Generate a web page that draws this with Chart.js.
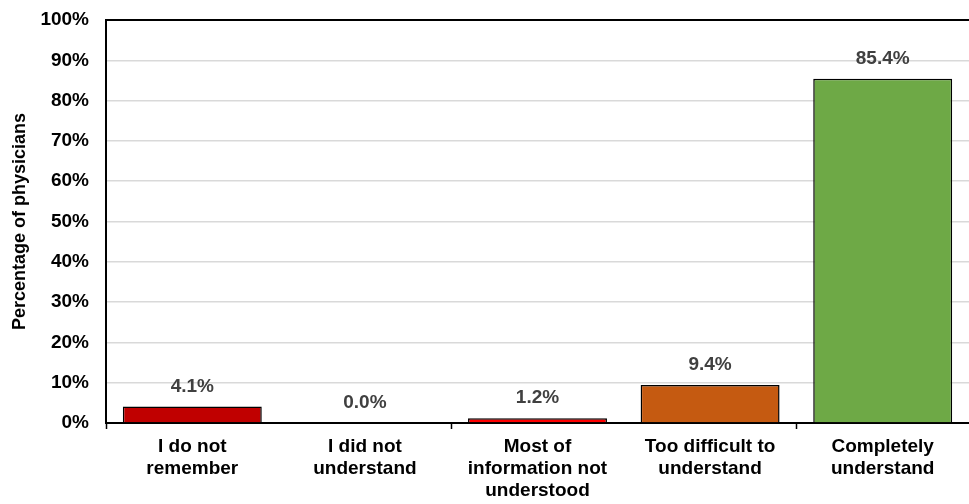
<!DOCTYPE html>
<html>
<head>
<meta charset="utf-8">
<script src="https://cdn.jsdelivr.net/npm/chart.js@4.4.0/dist/chart.umd.min.js"></script>
<style>
  html, body { margin: 0; padding: 0; background: #fff; }
  #wrap { width: 969px; height: 504px; position: relative; }
</style>
</head>
<body>
<div id="wrap"><canvas id="bar-chart"></canvas></div>
<script>
// Chart data
var categories = [
    ["I do not", "remember"],
    ["I did not", "understand"],
    ["Most of", "information not", "understood"],
    ["Too difficult to", "understand"],
    ["Completely", "understand"]
];
var percentages = [4.1, 0.0, 1.2, 9.4, 85.4];
var barColors = ["#C00000", "#C00000", "#FF0000", "#C55A11", "#6EA946"];
var yTicks = [0, 10, 20, 30, 40, 50, 60, 70, 80, 90, 100];

var FONT = "'Liberation Sans', Arial, sans-serif";

// value labels above each bar
var valueLabels = {
    id: "valueLabels",
    afterDatasetsDraw: function(chart) {
        var ctx = chart.ctx;
        var meta = chart.getDatasetMeta(0);
        ctx.save();
        ctx.font = "bold 19px " + FONT;
        ctx.fillStyle = "#404040";
        ctx.textAlign = "center";
        ctx.textBaseline = "middle";
        meta.data.forEach(function(bar, i) {
            ctx.fillText(percentages[i].toFixed(1) + "%", bar.x, bar.y - 20);
        });
        ctx.restore();
    }
};

var ctx = document.getElementById("bar-chart");

var chartOptions = {
    responsive: true,
    maintainAspectRatio: false,
    animation: false,
    layout: { padding: { top: 0, right: 0, left: 0, bottom: 0 } },
    plugins: {
        legend: { display: false },
        tooltip: { enabled: false }
    },
    scales: {
        x: {
            grid: {
                offset: true,
                drawOnChartArea: false,
                drawTicks: true,
                tickLength: 6,
                tickWidth: 1.5,
                tickColor: function(c) { return c.index % 2 === 0 ? "#000" : "rgba(0,0,0,0)"; }
            },
            border: { display: true, color: "#000", width: 2 },
            ticks: {
                color: "#000",
                font: { family: FONT, size: 19, weight: "bold", lineHeight: 1.15 },
                padding: 7,
                maxRotation: 0,
                autoSkip: false
            },
            afterFit: function(scale) { scale.height = 81; }
        },
        y: {
            min: 0,
            max: 100,
            afterBuildTicks: function(scale) {
                scale.ticks = yTicks.map(function(v) { return { value: v }; });
            },
            grid: {
                color: function(c) { return c.tick && c.tick.value === 100 ? "#000" : "#D9D9D9"; },
                lineWidth: function(c) { return c.tick && c.tick.value === 100 ? 2 : 1.5; },
                drawTicks: false
            },
            border: { display: true, color: "#000", width: 2 },
            ticks: {
                color: "#000",
                font: { family: FONT, size: 19, weight: "bold" },
                padding: 17,
                callback: function(v) { return v + "%"; }
            },
            title: {
                display: true,
                text: "Percentage of physicians",
                color: "#000",
                font: { family: FONT, size: 18, weight: "bold" },
                padding: { top: 9, bottom: 8 }
            },
            afterFit: function(scale) {
                scale.width = 106;
                scale.paddingTop = 20;
            }
        }
    }
};

var chartData = {
    labels: categories,
    datasets: [{
        data: percentages,
        backgroundColor: barColors,
        borderColor: "#000",
        borderWidth: 1.5,
        categoryPercentage: 1.0,
        barPercentage: 0.805
    }]
};

var config = {
    type: "bar",
    options: chartOptions,
    data: chartData,
    plugins: [valueLabels]
};

var barChart = new Chart(ctx, config);
</script>
</body>
</html>
